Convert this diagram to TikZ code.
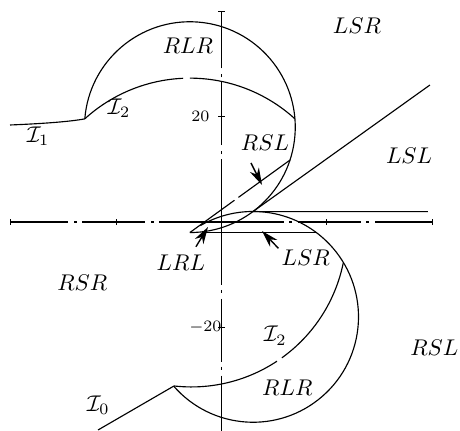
\documentclass[tikz,border=0pt]{standalone}
\usepackage{amsmath,amssymb}
\usepackage{xcolor}
\usepackage{tikz}
\usetikzlibrary{arrows.meta,calc}
\definecolor{ink}{HTML}{000000}
\tikzset{
  axisln/.style={draw=ink, line width=0.45pt, dash pattern=on 27.7pt off 2.2pt on 1.3pt off 2.6pt},
  tickmk/.style={draw=ink, line width=0.45pt},
  bnd/.style={draw=ink, line width=0.5pt},
  reg/.style={font=\normalsize, inner sep=0pt},
  tlab/.style={font=\scriptsize, inner sep=0pt, anchor=east},
  pointer/.style={draw=ink, line width=0.6pt, -{Stealth[length=7.5pt,width=4.4pt,inset=2.4pt]}},
}

\begin{document}
\begin{tikzpicture}[x=2.32pt,y=2.32pt]
\useasboundingbox (-42.03,-39.66) rectangle (45.26,42.13);
% axes
\coordinate (O) at (0,0);
\coordinate (xl) at (-40,0);
\coordinate (xr) at (40,0);
\coordinate (yt) at (0,40);
\coordinate (yb) at (0,-40);
\draw[axisln] (O) -- (xl);
\draw[axisln] (O) -- (xr);
\draw[axisln] (O) -- (yt);
\draw[axisln] (O) -- (yb);
\foreach \t in {-40,-20,20,40} \draw[tickmk] (\t,-0.5) -- (\t,0.5);
\foreach \t in {-20,20,40} \draw[tickmk] (-0.6,\t) -- (0.6,\t);
\node[tlab] (ty1) at (-2.2,20) {20};
\node[tlab] (ty2) at (0.1,-20) {$-20$};

% centres
\coordinate (Ct) at (-6,18);
\coordinate (Cb) at (6,-18);
\coordinate (Ci) at (-6,-2.3);
\coordinate (Cj) at (-5.7,-1.9);
\coordinate (tA) at ([shift={(175.5:20)}]Ct);
\coordinate (bA) at ([shift={(221.1:20)}]Cb);
\coordinate (tL) at ([shift={(-53.3:20)}]Ct);
\coordinate (rslE) at ([shift={(-18.2:20)}]Ct);

% circles
\draw[bnd] (tA) arc[start angle=175.5, end angle=-90, radius=20] coordinate (tip);
\draw[bnd] (bA) arc[start angle=221.1, end angle=480, radius=20];

% I curves
\coordinate (i1s) at (-40.13,18.41);
\coordinate (i0s) at (-23.43,-39.47);
\draw[bnd] (i1s) .. controls (-33,18.7) and (-28.5,19.1) .. (tA);
\draw[bnd] ([shift={(132.34:29.6)}]Ci) arc[start angle=132.34, end angle=92.5, radius=29.6];
\draw[bnd] ([shift={(90:29.6)}]Ci) arc[start angle=90, end angle=47.66, radius=29.6];
\draw[bnd] (i0s) -- (bA);
\draw[bnd] ([shift={(263.4:29.4)}]Cj) arc[start angle=263.4, end angle=303.5, radius=29.4];
\draw[bnd] ([shift={(305.7:29.4)}]Cj) arc[start angle=305.7, end angle=348.5, radius=29.4];

% straight boundaries
\coordinate (lslE) at (39.56,26);
\coordinate (lslH) at (39.18,1.96);
\coordinate (lsrS) at (-3.6,-1.96);
\coordinate (lsrE) at (17.87,-1.96);
\draw[bnd] (tip) -- ($(tip)!0.445!(rslE)$);
\draw[bnd] ($(tip)!0.485!(rslE)$) -- (rslE);
\draw[bnd] (tL) -- (lslE);
\draw[bnd] (tL) -- (lslH);
\draw[bnd] (lsrS) -- (lsrE);

% pointers
\coordinate (a1t) at (5.6,11.2);
\coordinate (a1h) at (7.69,7.02);
\coordinate (a2t) at (-4.85,-4.7);
\coordinate (a2h) at (-2.56,-0.95);
\coordinate (a3t) at (10.8,-5.0);
\coordinate (a3h) at (7.69,-1.71);
\draw[pointer] (a1t) -- (a1h);
\draw[pointer] (a2t) -- (a2h);
\draw[pointer] (a3t) -- (a3h);

% regions
\node[reg] (rlrT) at (-6.36,33.5) {$RLR$};
\node[reg] (lsrT) at (25.7,37.3) {$LSR$};
\node[reg] (i2T) at (-19.45,21.54) {$\mathcal{I}_2$};
\node[reg] (i1) at (-34.8,16.3) {$\mathcal{I}_1$};
\node[reg] (rslT) at (8.25,15.1) {$RSL$};
\node[reg] (lsl) at (35.6,12.6) {$LSL$};
\node[reg] (lrl) at (-7.7,-7.7) {$LRL$};
\node[reg] (rsr) at (-26.4,-11.5) {$RSR$};
\node[reg] (lsrB) at (16.0,-6.7) {$LSR$};
\node[reg] (i2B) at (10.2,-21.6) {$\mathcal{I}_2$};
\node[reg] (rlrB) at (12.5,-31.4) {$RLR$};
\node[reg] (rslB) at (40.4,-23.8) {$RSL$};
\node[reg] (i0) at (-23.4,-34.8) {$\mathcal{I}_0$};
\end{tikzpicture}
\end{document}
